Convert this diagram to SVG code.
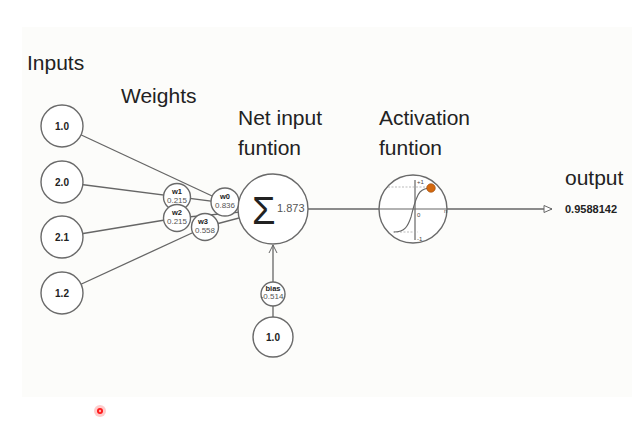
<svg xmlns="http://www.w3.org/2000/svg" width="643" height="431" viewBox="0 0 643 431">
<style>
.t{font-family:"Liberation Sans",Arial,sans-serif;fill:#222}
.h{font-size:21px}
.nd{fill:#fff;stroke:#6a6a6a;stroke-width:1.4}
.in{font-size:10px;font-weight:bold;text-anchor:middle}
.wl{font-size:7.5px;font-weight:bold;text-anchor:middle}
.wv{font-size:8px;text-anchor:middle;fill:#555}
.c{stroke:#666;stroke-width:1.3;fill:none}
.ax{font-size:6px;fill:#444}
</style>
<defs>
<marker id="tri" markerWidth="10" markerHeight="10" refX="9" refY="5" orient="auto" markerUnits="userSpaceOnUse">
<path d="M1,1.5 L9,5 L1,8.5 Z" fill="#fff" stroke="#666" stroke-width="1"/>
</marker>
<marker id="chev" markerWidth="10" markerHeight="10" refX="9" refY="5" orient="auto" markerUnits="userSpaceOnUse">
<path d="M1,1 L9,5 L1,9" fill="none" stroke="#666" stroke-width="1"/>
</marker>
</defs>
<rect x="22" y="27" width="610" height="370" fill="#fcfcfa"/>
<g id="titles">
<text class="t h" x="27" y="70">Inputs</text>
<text class="t h" x="121" y="103">Weights</text>
<text class="t h" x="238" y="125">Net input</text>
<text class="t h" x="238" y="155">funtion</text>
<text class="t h" x="379" y="125">Activation</text>
<text class="t h" x="379" y="155">funtion</text>
<text class="t h" x="565" y="185">output</text>
</g>
<g id="connectors">
<line class="c" x1="62" y1="126" x2="225" y2="202"/>
<line class="c" x1="62" y1="182" x2="273" y2="209"/>
<line class="c" x1="62" y1="237" x2="177" y2="218"/>
<line class="c" x1="177" y1="218" x2="273" y2="209"/>
<line class="c" x1="62" y1="293" x2="205" y2="227"/>
<line class="c" x1="205" y1="227" x2="273" y2="209"/>
<line class="c" x1="225" y1="202" x2="273" y2="209"/>
<line class="c" x1="308" y1="209" x2="552" y2="209" marker-end="url(#tri)"/>
<line class="c" x1="273" y1="317" x2="273" y2="306"/>
<line class="c" x1="273" y1="282" x2="273" y2="245" marker-end="url(#chev)"/>
</g>
<g id="input1"><circle class="nd" cx="62" cy="126" r="21"/><text class="t in" x="62" y="130">1.0</text></g>
<g id="input2"><circle class="nd" cx="62" cy="182" r="21"/><text class="t in" x="62" y="186">2.0</text></g>
<g id="input3"><circle class="nd" cx="62" cy="237" r="21"/><text class="t in" x="62" y="241">2.1</text></g>
<g id="input4"><circle class="nd" cx="62" cy="293" r="21"/><text class="t in" x="62" y="297">1.2</text></g>
<g id="w1"><circle class="nd" cx="177" cy="197" r="13.5"/><text class="t wl" x="177" y="194">w1</text><text class="t wv" x="177" y="203">0.215</text></g>
<g id="w2"><circle class="nd" cx="177" cy="218" r="13.5"/><text class="t wl" x="177" y="215">w2</text><text class="t wv" x="177" y="224">0.215</text></g>
<g id="w0"><circle class="nd" cx="225" cy="202" r="14"/><text class="t wl" x="225" y="199">w0</text><text class="t wv" x="225" y="208">0.836</text></g>
<g id="w3"><circle class="nd" cx="205" cy="227" r="13.5"/><text class="t wl" x="203" y="224">w3</text><text class="t wv" x="205" y="233">0.558</text></g>
<g id="sum"><circle class="nd" cx="273" cy="209" r="35"/>
<text class="t" x="252" y="224" style="font-size:38px">Σ</text>
<text class="t" x="277" y="212" style="font-size:11px;fill:#555">1.873</text></g>
<g id="activation"><circle class="nd" cx="413" cy="209" r="34"/>
<line x1="379" y1="209" x2="447" y2="209" stroke="#666" stroke-width="1.2"/>
<line x1="415" y1="180" x2="415" y2="240" stroke="#666" stroke-width="1.2"/>
<line x1="388" y1="187" x2="430" y2="187" stroke="#aaa" stroke-width="0.8" stroke-dasharray="2,1.5"/>
<line x1="393" y1="232" x2="418" y2="232" stroke="#aaa" stroke-width="0.8" stroke-dasharray="2,1.5"/>
<path d="M394,232 C405,232 408,226 411,217 C414,205 416,196 420,192 C423,189 426,188 431,188" fill="none" stroke="#666" stroke-width="1.1"/>
<circle cx="431" cy="188" r="4.3" fill="#d4690f" stroke="#9a4a0a" stroke-width="0.6"/>
<text class="t ax" x="417" y="184">+1</text>
<text class="t ax" x="417" y="217">0</text>
<text class="t ax" x="417" y="241">-1</text>
<text class="t ax" x="444" y="213">n</text></g>
<g id="bias"><circle class="nd" cx="273" cy="294" r="12"/><text class="t wl" x="273" y="291">bias</text><text class="t wv" x="272" y="299">-0.514</text></g>
<g id="biasinput"><circle class="nd" cx="273" cy="337" r="20"/><text class="t in" x="273" y="341">1.0</text></g>
<g id="out"><text class="t" x="565" y="213" style="font-size:11px;font-weight:bold">0.9588142</text></g>
<g id="cursor"><circle cx="100" cy="411" r="6" fill="#ff3030" opacity="0.25"/><circle cx="100" cy="411" r="3" fill="#ff1a1a"/><circle cx="100" cy="411" r="1.2" fill="#ffb0b0"/></g>
</svg>
